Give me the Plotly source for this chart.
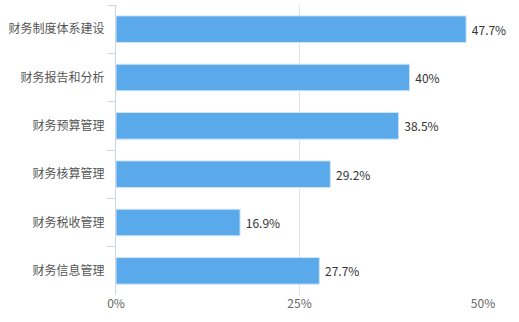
import plotly.graph_objects as go

categories = ["财务制度体系建设", "财务报告和分析", "财务预算管理", "财务核算管理", "财务税收管理", "财务信息管理"]
values = [47.7, 40, 38.5, 29.2, 16.9, 27.7]
x_ticks = [0, 25, 50]
x_tick_labels = ["0%", "25%", "50%"]

FONT = "Noto Sans CJK SC, Microsoft YaHei, sans-serif"

fig = go.Figure(
    go.Bar(
        x=values,
        y=categories,
        orientation="h",
        marker=dict(color="#5aa9ea", line=dict(color="#cfe5f9", width=1)),
        width=0.55,
        text=[f" {v:g}%" for v in values],
        textposition="outside",
        textfont=dict(family=FONT, size=12, color="#333333"),
        cliponaxis=False,
        hoverinfo="skip",
    )
)

fig.update_layout(
    width=519,
    height=322,
    margin=dict(l=116, r=36, t=5, b=27),
    paper_bgcolor="white",
    plot_bgcolor="white",
    showlegend=False,
    font=dict(family=FONT, size=12, color="#555555"),
)

fig.update_xaxes(
    range=[0, 50],
    tickmode="array",
    tickvals=x_ticks,
    ticktext=x_tick_labels,
    showgrid=True,
    gridcolor="#e3e3e3",
    gridwidth=1,
    zeroline=False,
    showline=False,
    ticks="",
    tickfont=dict(family=FONT, size=12, color="#666666"),
)

fig.update_yaxes(
    autorange="reversed",
    showline=True,
    linecolor="#ccd6e0",
    linewidth=1,
    ticks="outside",
    tickson="boundaries",
    ticklen=8,
    tickcolor="#ccd6e0",
    showgrid=False,
    ticklabelstandoff=8,
    tickfont=dict(family=FONT, size=12, color="#555555"),
)

fig.write_html("out.html")
